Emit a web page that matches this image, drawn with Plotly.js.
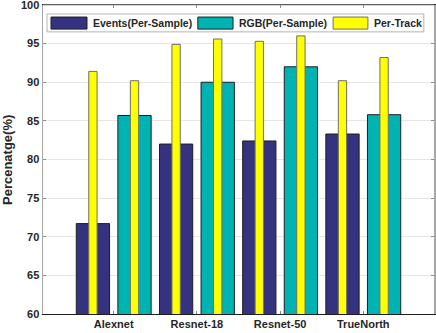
<!DOCTYPE html>
<html>
<head>
<meta charset="utf-8">
<script src="https://cdn.plot.ly/plotly-3.0.1.min.js"></script>
<style>
  body { margin: 0; background: #fff; }
  #graph { width: 436px; height: 333px; }
</style>
</head>
<body>
<div id="graph"></div>
<script>
// categories and values
var models = ['Alexnet', 'Resnet-18', 'Resnet-50', 'TrueNorth'];
var events = [71.7, 82.0, 82.4, 83.3];          // Events(Per-Sample)
var rgb = [85.7, 90.0, 92.0, 85.8];             // RGB(Per-Sample)
var trackEvents = [91.4, 94.9, 95.3, 90.2];     // Per-Track on the events bar
var trackRgb = [90.2, 95.6, 96.0, 93.2];        // Per-Track on the rgb bar

// bar slots: events at 1,3,5,7 and rgb at 2,4,6,8
var xEv = [], xRgb = [], xTrack = [], yTrack = [], tickPos = [];
for (var i = 0; i < models.length; i++) {
    xEv.push(2 * i + 1);
    xRgb.push(2 * i + 2);
    xTrack.push(2 * i + 1, 2 * i + 2);
    yTrack.push(trackEvents[i], trackRgb[i]);
    tickPos.push(2 * i + 1.5);
}

var font = { family: 'Liberation Sans, Arial, sans-serif', size: 11, color: '#262626', weight: 'bold' };
var legFont = { family: font.family, size: 10.5, color: '#262626', weight: 'bold' };

var data = [
    { type: 'bar', x: xEv, y: events, width: 0.8, name: 'Events(Per-Sample)',
      marker: { color: '#35337f', line: { color: '#1e1e1e', width: 1 } } },
    { type: 'bar', x: xRgb, y: rgb, width: 0.8, name: 'RGB(Per-Sample)',
      marker: { color: '#00b3b3', line: { color: '#1e1e1e', width: 1 } } },
    { type: 'bar', x: xTrack, y: yTrack, width: 0.2, name: 'Per-Track',
      marker: { color: '#ffff00', line: { color: '#6e6e6e', width: 1 } } }
];

// hand-made legend so the swatches are wide like the original
var legendItems = [
    { text: 'Events(Per-Sample)', color: '#35337f', edge: '#1e1e1e', x0: 0.0205, x1: 0.1125, tx: 0.1228 },
    { text: 'RGB(Per-Sample)', color: '#00b3b3', edge: '#1e1e1e', x0: 0.396, x1: 0.486, tx: 0.496 },
    { text: 'Per-Track', color: '#ffff00', edge: '#6e6e6e', x0: 0.742, x1: 0.831, tx: 0.841 }
];

var shapes = [
    // top border in light grey
    { type: 'line', xref: 'paper', yref: 'paper', x0: 0, x1: 1, y0: 1, y1: 1,
      line: { color: '#a6a6a6', width: 1.2 } },
    // legend frame
    { type: 'rect', xref: 'paper', yref: 'paper', x0: 0.0102, x1: 0.974, y0: 0.913, y1: 0.971,
      fillcolor: '#ffffff', line: { color: '#b4b4b4', width: 1 } }
];
var annotations = [
    { text: 'Percenatge(%)', xref: 'paper', yref: 'paper', x: -0.0908, y: 0.5,
      xanchor: 'center', yanchor: 'middle',
      textangle: -90, showarrow: false, font: { family: font.family, size: 13, color: '#262626', weight: 'bold' } }
];
legendItems.forEach(function (it) {
    shapes.push({ type: 'rect', xref: 'paper', yref: 'paper', x0: it.x0, x1: it.x1, y0: 0.922, y1: 0.961,
        fillcolor: it.color, line: { color: it.edge, width: 1 } });
    annotations.push({ text: it.text, xref: 'paper', yref: 'paper', x: it.tx, y: 0.942,
        xanchor: 'left', yanchor: 'middle', showarrow: false, font: legFont });
});

var layout = {
    width: 436, height: 333,
    margin: { l: 43, r: 2, t: 5, b: 19 },
    barmode: 'overlay',
    showlegend: false,
    font: font,
    plot_bgcolor: '#ffffff', paper_bgcolor: '#ffffff',
    xaxis: {
        range: [-0.2, 9.2],
        tickvals: tickPos, ticktext: models,
        ticks: 'inside', ticklen: 3, tickcolor: '#8c8c8c',
        showline: true, linecolor: '#1e1e1e', linewidth: 1.2, mirror: 'ticks',
        showgrid: false, zeroline: false, tickfont: font
    },
    yaxis: {
        range: [60, 100],
        tickvals: [60, 65, 70, 75, 80, 85, 90, 95, 100],
        ticks: 'inside', ticklen: 3, tickcolor: '#8c8c8c',
        showline: true, linecolor: '#a6a6a6', linewidth: 1.5, mirror: 'ticks',
        showgrid: true, gridcolor: '#e6e6e6', zeroline: false, tickfont: font,
        ticklabeloverflow: 'allow'
    },
    shapes: shapes,
    annotations: annotations
};

Plotly.newPlot('graph', data, layout, { staticPlot: true, displayModeBar: false });
</script>
</body>
</html>
